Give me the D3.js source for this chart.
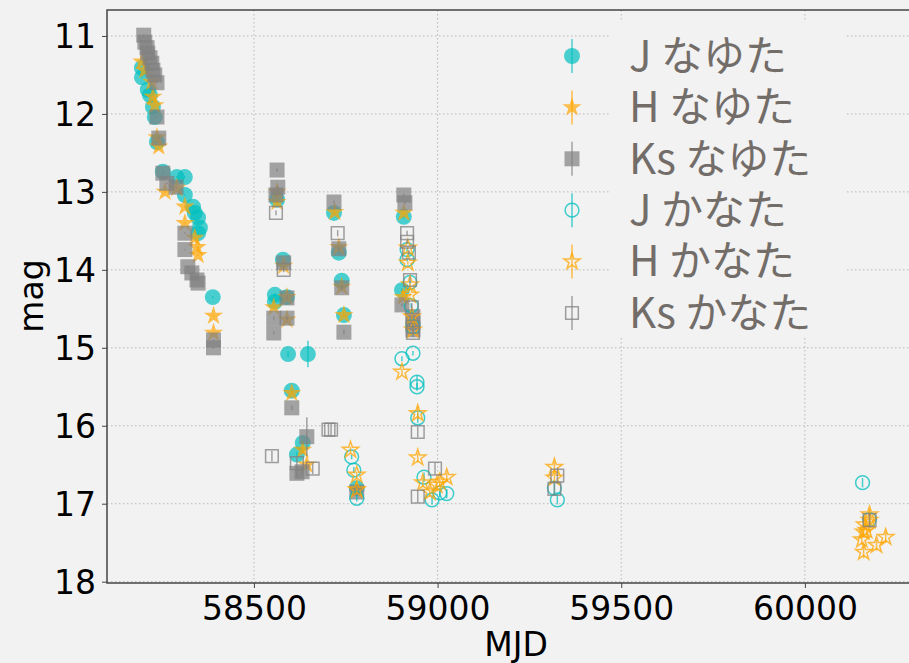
<!DOCTYPE html>
<meta charset="utf-8">
<style>
  body { margin: 0; background: #f2f2f2; }
  svg text { font-family: "DejaVu Sans", sans-serif; }
</style>
<svg id="mainsvg" width="909" height="663"></svg>
<script src="https://d3js.org/d3.v7.min.js"></script>
<script>

// ---- data (MJD, mag, error) ----
const jNayutaMjd = [58195,58195,58211,58217,58225,58230,58236,58252,58290,58312,58312,58334,58339,58348,58353,58348,58388,
  58563,58579,58590,58557,58557,58593,58647,58603,58633,58617,58718,58731,58739,58745,58780,58908,58903];
const jNayutaMag = [11.41,11.53,11.69,11.76,11.91,12.04,12.36,12.74,12.81,12.81,13.04,13.19,13.27,13.33,13.46,13.53,14.35,
  13.10,13.87,14.35,14.32,14.41,15.08,15.08,15.55,16.22,16.37,13.27,13.78,14.14,14.58,16.80,13.32,14.26];
const jNayutaErr = [0.01,0.01,0.01,0.01,0.01,0.01,0.01,0.01,0.01,0.01,0.01,0.01,0.01,0.01,0.01,0.01,0.01,
  0.02,0.02,0.02,0.02,0.02,0.04,0.17,0.02,0.03,0.03,0.02,0.02,0.02,0.02,0.03,0.02,0.02];

const hNayutaMjd = [58195,58203,58222,58225,58230,58236,58241,58258,58290,58312,58312,58339,58345,58348,58390,58390,
  58563,58563,58581,58554,58590,58590,58603,58633,58644,58720,58731,58739,58745,58780,58908,58906];
const hNayutaMag = [11.33,11.44,11.59,11.78,11.89,12.30,12.42,13.00,12.95,13.19,13.40,13.59,13.71,13.81,14.59,14.81,
  13.00,13.13,13.95,14.48,14.35,14.64,15.58,16.31,16.50,13.26,13.71,14.22,14.58,16.82,13.27,14.35];
const hNayutaErr = [0.01,0.01,0.01,0.01,0.01,0.01,0.01,0.01,0.01,0.01,0.01,0.01,0.01,0.01,0.01,0.01,
  0.02,0.02,0.02,0.02,0.02,0.02,0.02,0.04,0.05,0.02,0.02,0.02,0.02,0.03,0.02,0.02];

const ksNayutaMjd = [58200,58203,58209,58211,58217,58222,58225,58230,58236,58236,58241,58252,58263,58288,58312,58312,58320,58331,58345,58348,58390,58390,
  58563,58565,58560,58581,58554,58590,58590,58554,58603,58644,58617,58631,58718,58731,58739,58745,58780,58908,58911,58903,58933,58933,58933];
const ksNayutaMag = [10.99,11.08,11.15,11.22,11.28,11.35,11.44,11.50,11.60,12.04,12.31,12.76,12.89,12.94,13.53,13.74,13.96,14.04,14.13,14.17,14.90,15.00,
  12.72,12.94,13.04,13.91,14.62,14.36,14.62,14.81,15.77,16.14,16.61,16.59,13.13,13.73,14.23,14.80,16.85,13.04,13.14,14.45,14.60,14.68,14.77];
const ksNayutaErr = [0.01,0.01,0.01,0.01,0.01,0.01,0.01,0.01,0.01,0.01,0.01,0.01,0.01,0.01,0.01,0.01,0.01,0.01,0.01,0.01,0.01,0.01,
  0.02,0.02,0.02,0.02,0.02,0.02,0.02,0.02,0.03,0.25,0.05,0.05,0.02,0.02,0.03,0.03,0.04,0.02,0.02,0.02,0.02,0.02,0.02];

const jKanataMjd = [58766,58772,58780,58917,58917,58925,58928,58933,58903,58933,58944,58944,58946,58963,58985,59006,59025,59318,59326,60157,60176];
const jKanataMag = [16.40,16.57,16.93,13.74,13.87,14.16,14.46,14.73,15.14,15.07,15.44,15.50,15.90,16.66,16.95,16.86,16.87,16.80,16.95,16.73,17.20];
const jKanataErr = [0.03,0.04,0.04,0.02,0.02,0.02,0.03,0.03,0.03,0.03,0.08,0.05,0.06,0.06,0.06,0.06,0.06,0.08,0.06,0.06,0.07];

const hKanataMjd = [58763,58780,58780,58919,58919,58925,58925,58930,58933,58903,58946,58946,58960,58979,58998,59006,59025,59318,59318,
  60176,60160,60168,60155,60160,60195,60220,60176,60163];
const hKanataMag = [16.31,16.63,16.82,13.72,13.91,14.19,14.32,14.60,14.77,15.31,15.84,16.41,16.73,16.85,16.76,16.72,16.66,16.53,16.67,
  17.14,17.36,17.34,17.46,17.62,17.53,17.43,17.21,17.27];
const hKanataErr = [0.04,0.04,0.04,0.02,0.02,0.02,0.02,0.03,0.03,0.04,0.08,0.06,0.06,0.06,0.06,0.06,0.06,0.07,0.07,
  0.08,0.07,0.07,0.07,0.08,0.07,0.07,0.07,0.07];

const ksKanataMjd = [58549,58560,58581,58617,58660,58703,58710,58728,58917,58917,58922,58925,58930,58933,58933,58946,58993,58946,59326,59318,60176];
const ksKanataMag = [16.39,13.27,14.00,16.48,16.55,16.05,16.05,13.53,13.53,13.64,13.78,14.13,14.48,14.73,14.81,16.08,16.55,16.91,16.64,16.81,17.21];
const ksKanataErr = [0.07,0.03,0.03,0.07,0.07,0.08,0.08,0.04,0.03,0.03,0.03,0.04,0.05,0.05,0.05,0.07,0.08,0.08,0.1,0.08,0.09];

const legendLabels = ["J なゆた", "H なゆた", "Ks なゆた", "J かなた", "H かなた", "Ks かなた"];
const xTicks = [58500, 59000, 59500, 60000];
const yTicks = [11, 12, 13, 14, 15, 16, 17, 18];

const cJ = "#00bfbf", cH = "#ffa500", cKs = "#808080";

const svg = d3.select("#mainsvg");
const x = d3.scaleLinear().domain([58100, 60327]).range([107, 925]);
const y = d3.scaleLinear().domain([10.667, 18.017]).range([10, 583]);

// grid
const grid = svg.append("g").attr("stroke", "#b8b8b8").attr("stroke-width", 1).attr("stroke-dasharray", "1.5,2.5");
grid.selectAll(".gx").data(xTicks).join("line")
  .attr("x1", d => x(d)).attr("x2", d => x(d)).attr("y1", 10).attr("y2", 583);
grid.selectAll(".gy").data(yTicks).join("line")
  .attr("x1", 107).attr("x2", 925).attr("y1", d => y(d)).attr("y2", d => y(d));

// axes
const xAxis = svg.append("g").attr("transform", "translate(0,583)")
  .call(d3.axisBottom(x).tickValues(xTicks).tickSize(5).tickPadding(7).tickFormat(d3.format("d")));
const yAxis = svg.append("g").attr("transform", "translate(107,0)")
  .call(d3.axisLeft(y).tickValues(yTicks).tickSize(5).tickPadding(6).tickFormat(d3.format("d")));
[xAxis, yAxis].forEach(a => {
  a.select(".domain").remove();
  a.selectAll("line").attr("stroke", "#444");
  a.selectAll("text").attr("font-size", 33).attr("fill", "#000");
});
xAxis.selectAll("text").attr("dy", "0.75em");
yAxis.selectAll("text").attr("dy", "0.36em");

svg.append("path").attr("fill", "none").attr("stroke", "#444").attr("stroke-width", 1.5)
  .attr("d", "M925,10H107V583H925");

svg.append("text").attr("x", 516).attr("y", 656).attr("text-anchor", "middle")
  .attr("font-size", 33).text("MJD");
svg.append("text").attr("transform", "translate(43,296) rotate(-90)").attr("text-anchor", "middle")
  .attr("font-size", 33).text("mag");

// series
function rows(m, g, e) { return m.map((d, i) => ({ mjd: d, mag: g[i], err: e[i] })); }

const series = [
  { data: rows(jNayutaMjd, jNayutaMag, jNayutaErr), color: cJ, shape: "circle", open: false },
  { data: rows(hNayutaMjd, hNayutaMag, hNayutaErr), color: cH, shape: "star", open: false },
  { data: rows(ksNayutaMjd, ksNayutaMag, ksNayutaErr), color: cKs, shape: "square", open: false },
  { data: rows(jKanataMjd, jKanataMag, jKanataErr), color: cJ, shape: "circle", open: true },
  { data: rows(hKanataMjd, hKanataMag, hKanataErr), color: cH, shape: "star", open: true },
  { data: rows(ksKanataMjd, ksKanataMag, ksKanataErr), color: cKs, shape: "square", open: true }
];

function symbolPath(s) {
  if (s.shape === "star") return d3.symbol(d3.symbolStar, s.open ? 82 : 115)();
  if (s.shape === "square") return d3.symbol(d3.symbolSquare, s.open ? 160 : 225)();
  return d3.symbol(d3.symbolCircle, s.open ? 150 : 200)();
}

function drawMarker(g, s) {
  g.append("path").attr("d", symbolPath(s))
    .attr("fill", s.open ? "none" : s.color)
    .attr("fill-opacity", 0.7)
    .attr("stroke", s.color)
    .attr("stroke-opacity", s.open ? 0.75 : 0)
    .attr("stroke-width", s.open ? 1.5 : 0);
}

const plot = svg.append("g");
series.forEach(s => {
  const g = plot.append("g");
  g.selectAll("line").data(s.data).join("line")
    .attr("x1", d => x(d.mjd)).attr("x2", d => x(d.mjd))
    .attr("y1", d => y(d.mag - d.err)).attr("y2", d => y(d.mag + d.err))
    .attr("stroke", s.color).attr("stroke-opacity", 0.7).attr("stroke-width", 1.5);
  g.selectAll("g").data(s.data).join("g")
    .attr("transform", d => `translate(${x(d.mjd)},${y(d.mag)})`)
    .each(function () { drawMarker(d3.select(this), s); });
});

// legend
const legend = svg.append("g");
legend.append("rect").attr("x", 610).attr("y", 22).attr("width", 235).attr("height", 316).attr("fill", "#f2f2f2");
series.forEach((s, i) => {
  const g = legend.append("g").attr("transform", `translate(572,${56 + i * 51.4})`);
  g.append("line").attr("y1", -17).attr("y2", 17).attr("stroke", s.color)
    .attr("stroke-opacity", 0.7).attr("stroke-width", 1.5);
  drawMarker(g, s);
  legend.append("text").attr("x", 629).attr("y", 56 + i * 51.4).attr("dy", "0.35em")
    .style("font-family", "'Noto Sans CJK JP', 'Noto Sans', sans-serif")
    .attr("font-size", 42).attr("fill", "#736d69").text(legendLabels[i]);
});

</script>
